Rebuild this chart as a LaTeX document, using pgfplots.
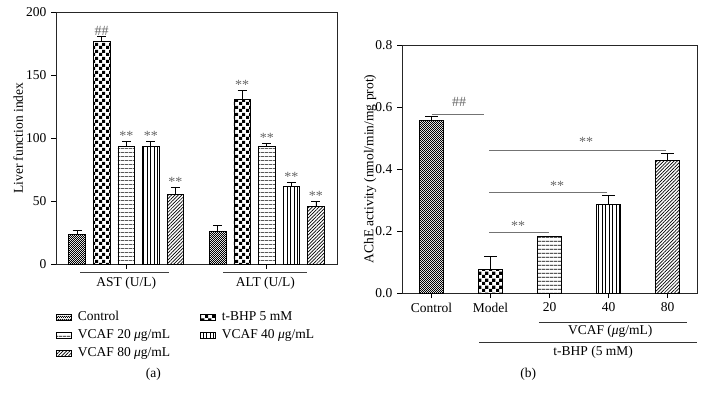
\documentclass[border=0pt]{standalone}
\usepackage{fontspec}
\setmainfont{Liberation Serif}
\usepackage{pgfplots}
\pgfplotsset{compat=1.18}
\usetikzlibrary{patterns,patterns.meta}

\pgfdeclarepatternformonly{bigcheck}{\pgfpointorigin}{\pgfpoint{6.6bp}{6.6bp}}{\pgfpoint{6.6bp}{6.6bp}}{%
 \pgfpathrectangle{\pgfpointorigin}{\pgfpoint{3.3bp}{3.3bp}}%
 \pgfpathrectangle{\pgfpoint{3.3bp}{3.3bp}}{\pgfpoint{3.3bp}{3.3bp}}%
 \pgfusepath{fill}}
\pgfdeclarepatternformonly{finecheck}{\pgfpointorigin}{\pgfpoint{2.4bp}{2.4bp}}{\pgfpoint{2.4bp}{2.4bp}}{%
 \pgfpathrectangle{\pgfpointorigin}{\pgfpoint{1.2bp}{1.2bp}}%
 \pgfpathrectangle{\pgfpoint{1.2bp}{1.2bp}}{\pgfpoint{1.2bp}{1.2bp}}%
 \pgfusepath{fill}}

\newcommand\fs{\fontsize{13.5bp}{16bp}\selectfont}
\newcommand\sfs{\fontsize{14bp}{16bp}\selectfont}

\pgfplotsset{
 ctrl/.style={draw=black, line width=0.7bp, fill=white, postaction={pattern=finecheck}},
 tbhp/.style={draw=black, line width=0.7bp, fill=white, postaction={pattern=bigcheck}},
 v20/.style={draw=black, line width=0.7bp, fill=white, postaction={pattern={Lines[angle=0,distance=3.6bp,line width=0.8bp]}}},
 v40/.style={draw=black, line width=0.7bp, fill=white, postaction={pattern={Lines[angle=90,distance=3.5bp,line width=0.8bp]}}},
 v80/.style={draw=black, line width=0.7bp, fill=white, postaction={pattern={Lines[angle=45,distance=2.4bp,line width=0.7bp]}}},
 eb/.style={error bars/.cd, y dir=plus, y explicit,
   error bar style={black, line width=0.7bp},
   error mark options={black, rotate=90, mark size=#1, line width=0.7bp}},
}
\tikzset{sig/.style={text=black!60, font=\sfs, inner sep=1bp}}

\begin{document}
\fs
\begin{tikzpicture}[x=1bp,y=1bp]
\useasboundingbox (0,0) rectangle (706,404);

% ---------------- (a) ----------------
\begin{axis}[
 at={(56bp,140bp)}, anchor=south west, scale only axis,
 width=281bp, height=251.5bp,
 ybar, bar width=0.118,
 xmin=-0.5, xmax=1.5, ymin=0, ymax=200,
 ytick={0,50,100,150,200},
 xtick={0,1}, xticklabels={},
 axis line style={black!85, line width=0.7bp},
 tick align=outside, xtick pos=bottom, ytick pos=left,
 major tick length=5bp,
 tick style={black, line width=0.7bp},
 ylabel={Liver function index},
 ylabel style={at={(axis description cs:-0.135,0.5)}, anchor=center},
 /pgf/number format/assume math mode=true,
 clip=false,
 legend columns=2,
 legend style={at={(0,-0.18)}, anchor=north west, draw=none, fill=none,
   inner sep=0pt, column sep=4bp, row sep=3bp,
   /tikz/every even column/.append style={column sep=28bp}},
 legend cell align=left,
 legend image code/.code={\draw[#1] (0bp,-2.8bp) rectangle (15bp,2.8bp);},
]
\addplot[ctrl, bar shift=-0.35, eb=4.5bp] coordinates {(0,23.8) +- (0,3.2) (1,26.2) +- (0,4.8)};
\addplot[tbhp, bar shift=-0.175, eb=4.5bp] coordinates {(0,177) +- (0,4) (1,131) +- (0,6.8)};
\addplot[v20, bar shift=0, eb=4.5bp] coordinates {(0,93.6) +- (0,4) (1,93.6) +- (0,2.2)};
\addplot[v40, bar shift=0.175, eb=4.5bp] coordinates {(0,93.6) +- (0,4) (1,62) +- (0,3)};
\addplot[v80, bar shift=0.35, eb=4.5bp] coordinates {(0,55.5) +- (0,5.5) (1,45.5) +- (0,4)};
\legend{Control, t-BHP 5 mM, VCAF 20 \textit{μ}g/mL, VCAF 40 \textit{μ}g/mL, VCAF 80 \textit{μ}g/mL}

\node[sig, anchor=south] at (axis cs:-0.175,181) {\#\#};
\node[sig, anchor=south] at (axis cs:0,97.6) {**};
\node[sig, anchor=south] at (axis cs:0.175,97.6) {**};
\node[sig, anchor=south] at (axis cs:0.35,61) {**};
\node[sig, anchor=south] at (axis cs:0.825,137.8) {**};
\node[sig, anchor=south] at (axis cs:1,95.8) {**};
\node[sig, anchor=south] at (axis cs:1.175,65) {**};
\node[sig, anchor=south] at (axis cs:1.35,49.5) {**};

\draw[black!75, line width=0.8bp] (axis cs:-0.329,-6.9) -- (axis cs:0.307,-6.9);
\draw[black!75, line width=0.8bp] (axis cs:0.69,-6.9) -- (axis cs:1.284,-6.9);
\node at (axis cs:0,-15.1) {AST (U/L)};
\node at (axis cs:0.99,-15.1) {ALT (U/L)};
\node at (axis cs:0.193,-88) {(a)};
\end{axis}

% ---------------- (b) ----------------
\begin{axis}[
 at={(402bp,111bp)}, anchor=south west, scale only axis,
 width=295bp, height=248bp,
 ybar, bar width=0.407, bar shift=0,
 xmin=-0.5, xmax=4.5, ymin=0, ymax=0.8,
 ytick={0,0.2,0.4,0.6,0.8},
 yticklabel style={/pgf/number format/.cd, fixed, fixed zerofill, precision=1},
 xtick={0,1,2,3,4}, xticklabels={Control, Model, 20, 40, 80},
 axis line style={black!85, line width=0.7bp},
 tick align=outside, xtick pos=bottom, ytick pos=left,
 major tick length=5bp,
 tick style={black, line width=0.7bp},
 ylabel={AChE activity (nmol/min/mg prot)},
 ylabel style={at={(axis description cs:-0.108,0.5)}, anchor=center},
 /pgf/number format/assume math mode=true,
 clip=false,
]
\addplot[ctrl, eb=6.3bp] coordinates {(0,0.556) +- (0,0.015)};
\addplot[tbhp, eb=6.3bp] coordinates {(1,0.0774) +- (0,0.040)};
\addplot[v20] coordinates {(2,0.184)};
\addplot[v40, eb=6.3bp] coordinates {(3,0.287) +- (0,0.029)};
\addplot[v80, eb=6.3bp] coordinates {(4,0.427) +- (0,0.024)};

\draw[black!55, line width=0.9bp] (axis cs:0.008,0.577) -- (axis cs:0.89,0.577);
\draw[black!55, line width=0.9bp] (axis cs:0.975,0.195) -- (axis cs:1.99,0.195);
\draw[black!55, line width=0.9bp] (axis cs:0.975,0.325) -- (axis cs:2.97,0.325);
\draw[black!55, line width=0.9bp] (axis cs:0.975,0.461) -- (axis cs:3.97,0.461);
\node[sig] at (axis cs:0.466,0.616) {\#\#};
\node[sig, yshift=-2.5bp] at (axis cs:1.47,0.226) {**};
\node[sig, yshift=-2.5bp] at (axis cs:2.13,0.355) {**};
\node[sig, yshift=-2.5bp] at (axis cs:2.62,0.494) {**};

\draw[black!80, line width=0.8bp] (axis cs:1.82,-0.0935) -- (axis cs:4.33,-0.0935);
\node at (axis cs:3.03,-0.1226) {VCAF (\textit{μ}g/mL)};
\draw[black!80, line width=0.8bp] (axis cs:0.805,-0.158) -- (axis cs:4.5,-0.158);
\node at (axis cs:2.74,-0.190) {t-BHP (5 mM)};
\node at (axis cs:1.64,-0.263) {(b)};
\end{axis}
\end{tikzpicture}
\end{document}
